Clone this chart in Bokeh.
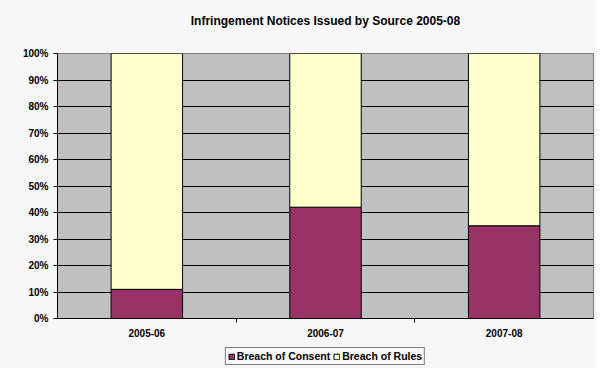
from bokeh.plotting import figure
from bokeh.layouts import column
from bokeh.core.properties import value
from bokeh.models import FixedTicker, NumeralTickFormatter, Legend, LegendItem, Range1d, ColumnDataSource
from bokeh.embed import file_html
from bokeh.resources import INLINE

title_text = "Infringement Notices Issued by Source 2005-08"
categories = ["2005-06", "2006-07", "2007-08"]
breach_of_consent = [0.11, 0.42, 0.35]
breach_of_rules = [0.89, 0.58, 0.65]
y_ticks = [0, 0.1, 0.2, 0.3, 0.4, 0.5, 0.6, 0.7, 0.8, 0.9, 1.0]
series_names = ["Breach of Consent", "Breach of Rules"]
series_colors = ["#993366", "#ffffcc"]

FONT = "Liberation Sans"
BG = "#f7f7f7"
W = 596


def strip(height):
    f = figure(width=W, height=height, output_backend="svg", toolbar_location=None,
               x_axis_type=None, y_axis_type=None, x_range=Range1d(0, 1), y_range=Range1d(0, 1),
               min_border=0)
    f.outline_line_color = None
    f.background_fill_color = BG
    f.border_fill_color = BG
    f.xgrid.grid_line_color = None
    f.ygrid.grid_line_color = None
    return f


# title strip
t = strip(40)
t.text(x=[0.5], y=[0.5], text=[title_text], text_align="center", text_baseline="middle",
       text_font=value(FONT), text_font_size="12px", text_font_style="bold", text_color="#000000")

# main chart
positions = [i + 0.5 for i in range(len(categories))]
source = ColumnDataSource(dict(x=positions, consent=breach_of_consent, rules=breach_of_rules))

p = figure(width=W, height=304, output_backend="svg", toolbar_location=None,
           x_range=Range1d(0, len(categories)), y_range=Range1d(0, 1),
           min_border_left=57, min_border_right=3, min_border_top=13, min_border_bottom=26)

p.background_fill_color = "#c0c0c0"
p.border_fill_color = BG
p.outline_line_color = "#808080"
p.outline_line_width = 1

renderers = p.vbar_stack(["consent", "rules"], x="x", width=0.4, source=source,
                         color=series_colors, line_color="#000000", line_width=1)

p.xaxis.ticker = FixedTicker(ticks=positions, minor_ticks=list(range(1, len(categories))))
p.xaxis.major_label_overrides = {pos: c for pos, c in zip(positions, categories)}
p.xaxis.major_tick_out = 0
p.xaxis.major_tick_in = 0
p.xaxis.minor_tick_out = 4
p.xaxis.minor_tick_in = 0
p.xaxis.minor_tick_line_color = "#000000"
p.xaxis.axis_line_color = "#000000"
p.xaxis.major_label_standoff = 6

p.yaxis.ticker = FixedTicker(ticks=y_ticks)
p.yaxis.formatter = NumeralTickFormatter(format="0%")
p.yaxis.major_tick_out = 4
p.yaxis.major_tick_in = 0
p.yaxis.minor_tick_line_color = None
p.yaxis.axis_line_color = "#000000"
p.yaxis.major_tick_line_color = "#000000"
p.yaxis.major_label_standoff = 5

for ax in (p.xaxis, p.yaxis):
    ax.major_label_text_font = FONT
    ax.major_label_text_font_size = "10px"
    ax.major_label_text_font_style = "bold"
    ax.major_label_text_color = "#000000"

p.xgrid.grid_line_color = None
p.ygrid.grid_line_color = "#000000"
p.ygrid.grid_line_width = 1
p.ygrid.ticker = FixedTicker(ticks=y_ticks)

# legend strip (legend-only glyphs carry no visible data)
lg = strip(24)
items = []
for name, col in zip(series_names, series_colors):
    r = lg.vbar(x=[float("nan")], top=[float("nan")], width=0.1,
                fill_color=col, line_color="#000000", line_width=1)
    items.append(LegendItem(label=name, renderers=[r]))
legend = Legend(items=items, orientation="horizontal", location="center")
legend.label_text_font = FONT
legend.label_text_font_size = "10.5px"
legend.label_text_font_style = "bold"
legend.label_text_color = "#000000"
legend.glyph_width = 7
legend.glyph_height = 7
legend.label_standoff = 2
legend.spacing = 3
legend.padding = 2
legend.margin = 0
legend.label_height = 12
legend.border_line_color = "#000000"
legend.border_line_width = 1
legend.background_fill_color = BG
legend.background_fill_alpha = 1
lg.add_layout(legend, "center")

layout = column(t, p, lg, spacing=0)
layout.background = BG

open("out.html", "w").write(file_html(layout, INLINE))
